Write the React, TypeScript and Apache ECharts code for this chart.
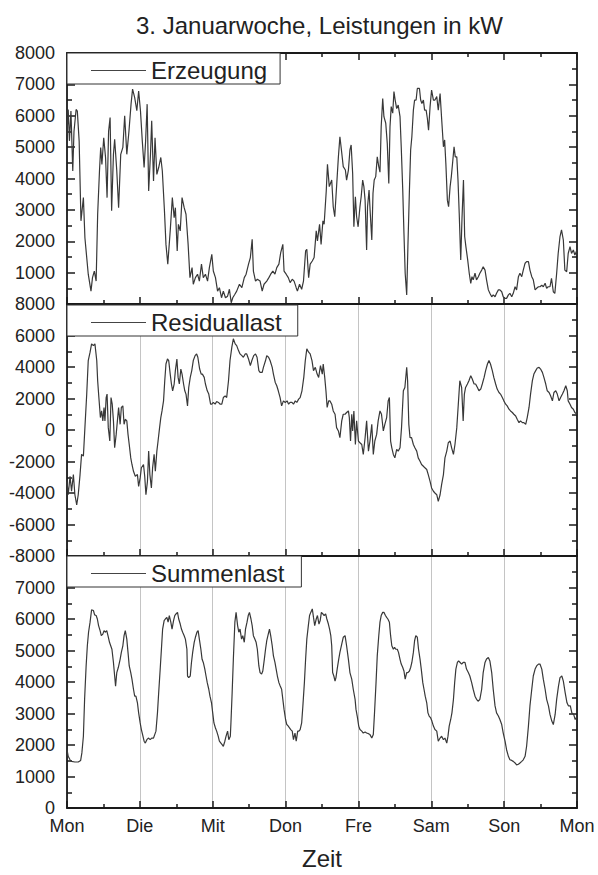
import React, { useEffect, useRef } from "react";
import * as echarts from "echarts";

// ---------- text ----------
const chartTitle = "3. Januarwoche, Leistungen in kW";
const xAxisTitle = "Zeit";
const dayLabels = ["Mon", "Die", "Mit", "Don", "Fre", "Sam", "Son", "Mon"];
const seriesNames = ["Erzeugung", "Residuallast", "Summenlast"];

// ---------- axis ranges ----------
const hoursMax = 168;
const hoursPerDay = 24;
const yMin = [0, -8000, 0];
const yMax = [8000, 8000, 8000];
const yStep = [1000, 2000, 1000];

// ---------- data: [hour of week, kW] ----------
const erzeugung: [number, number][] = [
  [0, 5400], [0.4, 6200], [0.8, 5200], [1.3, 6150], [1.9, 4240], [2.3, 5500], [3.0, 6200], [3.4, 6150],
  [4.0, 5200], [4.6, 2650], [5.4, 3390], [5.9, 2110], [7.0, 950], [7.9, 410], [8.4, 840], [9.0, 1050],
  [9.6, 730], [10.1, 2860], [10.7, 4240], [11.1, 4990], [11.5, 4450], [12.1, 5300], [12.7, 4670], [13.2, 3390],
  [13.7, 5500], [14.2, 5940], [14.7, 2970], [15.3, 4770], [15.7, 5250], [16.4, 4240], [17.0, 3070], [17.7, 4770],
  [18.4, 4990], [19.0, 6000], [19.7, 4770], [20.4, 5500], [21.1, 6370], [21.6, 6850], [22.3, 6580], [23.0, 6160],
  [23.6, 6790], [24.2, 6160], [24.8, 5200], [25.4, 4350], [25.9, 5200], [26.4, 6370], [26.9, 3600], [27.5, 4770],
  [27.9, 5840], [28.5, 3920], [29.0, 5300], [29.6, 4130], [30.2, 4350], [30.9, 4670], [31.4, 4240], [32.1, 2970],
  [32.6, 1900], [33.2, 1270], [34.0, 2330], [34.7, 3390], [35.3, 2750], [35.7, 3070], [36.3, 1690], [36.7, 2540],
  [37.3, 2330], [37.9, 3390], [38.6, 3070], [39.2, 2860], [39.9, 1900], [40.5, 840], [41.2, 1160], [41.6, 630],
  [42.3, 840], [43.0, 950], [43.6, 730], [44.3, 1270], [44.9, 840], [45.6, 950], [46.3, 730], [46.9, 1160],
  [47.7, 1580], [48.2, 1050], [48.9, 840], [49.6, 410], [50.2, 520], [50.9, 200], [51.5, 410], [52.2, 200],
  [52.9, 250], [53.5, 470], [54.1, 40], [54.6, 200], [55.3, 310], [55.9, 410], [56.8, 630], [57.6, 520],
  [58.4, 840], [59.0, 950], [59.8, 1270], [60.4, 1480], [61.0, 2060], [61.4, 1050], [62.1, 730], [62.7, 790],
  [63.6, 730], [64.3, 410], [64.9, 630], [65.8, 730], [66.5, 840], [67.1, 950], [67.8, 1050], [68.5, 950],
  [69.1, 1160], [69.8, 1270], [70.4, 1640], [71.1, 1900], [71.5, 1050], [72.2, 950], [72.9, 840], [73.5, 680],
  [74.2, 790], [74.8, 730], [75.5, 520], [75.9, 410], [76.6, 630], [77.3, 470], [77.9, 730], [78.6, 1690],
  [79.0, 1740], [79.6, 840], [80.1, 1270], [80.8, 1370], [81.4, 1480], [82.1, 2330], [82.5, 2010], [83.2, 2540],
  [83.7, 1900], [84.3, 2650], [84.7, 2540], [85.4, 3600], [85.8, 4450], [86.4, 3740], [87.2, 3950], [87.7, 3100],
  [88.2, 2780], [88.6, 3420], [89.4, 4690], [89.9, 5330], [90.4, 4910], [91.0, 4380], [91.7, 4270], [92.1, 3950],
  [92.7, 4270], [93.2, 4910], [93.6, 5070], [94.1, 4160], [94.5, 2460], [95.0, 3420], [95.4, 2780], [95.9, 2460],
  [96.5, 3100], [96.9, 3420], [97.4, 3950], [97.8, 3740], [98.2, 3310], [98.7, 1720], [99.0, 3100], [99.5, 3630],
  [99.9, 2890], [100.4, 2040], [100.8, 3530], [101.2, 3950], [101.7, 4060], [102.2, 4690], [102.7, 4380], [103.1, 4200],
  [103.5, 5650], [104.0, 6550], [104.4, 5970], [105.0, 5760], [105.5, 5120], [106.0, 3840], [106.4, 5650], [106.8, 6290],
  [107.3, 6080], [107.7, 6770], [108.1, 6500], [108.6, 6230], [109.1, 6340], [109.7, 5970], [110.1, 5010], [110.6, 3630],
  [111.0, 2250], [111.4, 980], [111.9, 290], [112.3, 1830], [112.8, 3630], [113.2, 4910], [113.6, 5330], [114.1, 6180],
  [114.5, 6500], [115.0, 6500], [115.4, 6870], [116.1, 6870], [116.5, 6500], [116.9, 6390], [117.4, 6500], [117.8, 6180],
  [118.3, 6180], [118.7, 5920], [119.1, 5540], [119.6, 6290], [120.1, 6820], [120.7, 6500], [121.2, 6500], [121.8, 6610],
  [122.3, 6180], [122.9, 6710], [123.4, 5920], [124.0, 5010], [124.4, 5230], [124.8, 4480], [125.3, 3310], [125.7, 3100],
  [126.2, 3740], [126.6, 4060], [127.0, 4480], [127.5, 5010], [127.9, 4690], [128.4, 4690], [128.8, 3950], [129.2, 2890],
  [129.7, 1400], [130.1, 2680], [130.6, 3950], [131.0, 2150], [131.4, 1830], [132.0, 1400], [132.5, 980], [133.0, 660],
  [133.4, 870], [133.8, 770], [134.4, 980], [134.9, 770], [135.5, 870], [136.0, 980], [136.6, 1080], [137.1, 1190],
  [137.7, 1080], [138.2, 770], [138.8, 450], [139.3, 340], [139.9, 230], [140.4, 290], [141.0, 230], [141.5, 340],
  [142.1, 450], [142.6, 450], [143.2, 390], [143.7, 230], [144.3, 180], [144.8, 180], [145.4, 290], [145.9, 340],
  [146.5, 230], [147.0, 340], [147.6, 550], [148.1, 450], [148.7, 870], [149.2, 980], [149.8, 870], [150.3, 1080],
  [150.9, 1300], [151.4, 1350], [152.0, 1350], [152.5, 1080], [153.1, 870], [153.6, 770], [154.2, 450], [154.7, 500],
  [155.3, 550], [155.8, 550], [156.4, 600], [156.9, 550], [157.5, 660], [158.0, 500], [158.5, 550], [159.1, 550],
  [159.6, 820], [160.2, 390], [160.7, 340], [161.3, 980], [161.8, 1610], [162.4, 2150], [162.9, 2360], [163.5, 2040],
  [164.0, 1080], [164.6, 1030], [165.1, 1610], [165.7, 1830], [166.2, 1610], [166.8, 1720], [167.3, 1560], [168, 1720],
];

const residuallast: [number, number][] = [
  [0, -3260], [0.4, -4110], [1.0, -2940], [1.5, -3890], [2.1, -2830], [2.6, -4110], [3.2, -4750], [3.7, -4110],
  [4.3, -2830], [4.8, -1550], [5.4, -1660], [5.9, 150], [6.5, 2280], [7.0, 4410], [7.6, 4940], [8.1, 5470],
  [8.7, 5360], [9.2, 5470], [9.8, 4410], [10.1, 3130], [10.5, 2060], [11.0, 790], [11.4, 1210], [11.8, 580],
  [12.2, 1430], [12.5, 580], [12.9, 2060], [13.2, 2280], [13.6, 150], [14.1, -700], [14.5, 2060], [14.9, 1640],
  [15.3, 580], [15.7, -1130], [16.2, -280], [16.6, 580], [17.0, 1430], [17.5, 360], [17.9, 1430], [18.4, 1530],
  [18.8, 360], [19.2, 680], [19.7, 580], [20.1, -280], [20.5, -920], [21.0, -1770], [21.4, -2190], [21.9, -2620],
  [22.5, -2940], [23.2, -2830], [23.6, -3580], [24.1, -3040], [24.5, -2400], [25.2, -2190], [25.6, -2940], [26.0, -4110],
  [26.5, -3260], [26.9, -1340], [27.3, -2830], [27.8, -3680], [28.2, -2400], [28.7, -1550], [29.1, -2620], [29.6, -1340],
  [30.0, -700], [30.5, 150], [30.9, 790], [31.3, 1210], [31.8, 1850], [32.2, 3130], [32.6, 4190], [33.1, 4510],
  [33.5, 4410], [34.0, 3550], [34.4, 2920], [34.8, 2490], [35.3, 2920], [35.7, 3770], [36.2, 4510], [36.6, 3340],
  [37.0, 2920], [37.5, 3870], [37.9, 3550], [38.4, 2920], [38.8, 2490], [39.2, 2280], [39.7, 1530], [40.1, 2700],
  [40.6, 3340], [41.1, 3770], [41.6, 4410], [42.2, 4720], [42.7, 4830], [43.1, 4620], [43.7, 3870], [44.2, 3550],
  [44.6, 3550], [45.2, 3340], [45.6, 2920], [46.2, 2490], [46.7, 2280], [47.3, 1640], [47.7, 1640], [48.2, 1750],
  [48.8, 1640], [49.3, 1810], [49.9, 1750], [50.4, 1640], [51.0, 1640], [51.5, 2060], [52.1, 2170], [52.6, 2060],
  [53.2, 3130], [53.7, 4410], [54.3, 5260], [54.8, 5790], [55.4, 5470], [55.9, 5360], [56.5, 5040], [57.0, 4830],
  [57.6, 4720], [58.1, 4620], [58.7, 4830], [59.2, 4830], [59.8, 4510], [60.4, 4090], [60.9, 4410], [61.5, 4720],
  [62.1, 4830], [62.6, 4620], [63.2, 3770], [63.6, 3660], [64.3, 3660], [64.7, 3980], [65.4, 4410], [65.8, 4720],
  [66.4, 4620], [66.9, 4410], [67.6, 3980], [68.0, 3550], [68.6, 3020], [69.1, 2810], [69.6, 2490], [70.2, 2060],
  [70.7, 1530], [71.3, 1850], [71.9, 1750], [72.5, 1850], [73.0, 1640], [73.5, 1750], [74.1, 1750], [74.6, 1640],
  [75.2, 1850], [75.7, 1750], [76.3, 1960], [76.8, 2060], [77.4, 2490], [78.0, 3340], [78.5, 4410], [79.0, 5150],
  [79.6, 4940], [80.1, 4830], [80.7, 4410], [81.2, 3770], [81.8, 3980], [82.4, 3550], [82.9, 3340], [83.5, 4090],
  [84.1, 3550], [84.4, 4190], [84.9, 3340], [85.3, 2490], [85.7, 1430], [86.2, 1850], [86.6, 1850], [87.2, 1640],
  [87.7, 1210], [88.3, 1000], [88.8, 150], [89.4, -60], [89.9, -490], [90.5, 580], [91.0, 1000], [91.6, 1000],
  [92.1, 1110], [92.7, 1210], [93.0, 790], [93.4, -700], [93.8, 1000], [94.1, -60], [94.5, 1210], [95.0, -920],
  [95.4, 580], [96.0, -700], [96.5, -810], [97.1, -920], [97.6, -1550], [98.2, -490], [98.7, 580], [99.3, -1340],
  [99.8, -700], [100.4, 360], [100.9, -1550], [101.4, -700], [102.0, -280], [102.5, 580], [103.1, 1210], [103.6, 1000],
  [104.2, -60], [104.7, 360], [105.3, 790], [105.8, 1850], [106.2, 2060], [106.6, -700], [107.0, -1130], [107.5, -1550],
  [108.0, -1770], [108.6, -1230], [109.1, -1340], [109.7, -1130], [110.2, 150], [110.8, 2490], [111.3, 2700], [111.9, 3980],
  [112.2, 3130], [112.6, 360], [113.0, -490], [113.5, -490], [114.1, -920], [114.6, -1130], [115.2, -1340], [115.7, -1770],
  [116.3, -1980], [116.8, -2190], [117.4, -2300], [117.9, -2400], [118.5, -2510], [119.0, -2830], [119.6, -3260], [120.1, -3680],
  [120.7, -3890], [121.2, -4000], [121.8, -4110], [122.3, -4530], [122.9, -4110], [123.4, -3470], [124.0, -2830], [124.5, -1770],
  [125.1, -1340], [125.6, -810], [126.2, -700], [126.7, -1130], [127.3, -1550], [127.8, -920], [128.4, 150], [128.9, 1640],
  [129.4, 3130], [130.0, 2700], [130.5, 580], [130.9, 2280], [131.3, 2700], [131.9, 2920], [132.4, 3130], [133.0, 3450],
  [133.5, 3240], [134.1, 2920], [134.6, 2920], [135.2, 2700], [135.7, 2490], [136.3, 2600], [136.8, 2920], [137.4, 3340],
  [137.9, 3770], [138.5, 4190], [139.0, 4410], [139.5, 4190], [140.1, 3770], [140.6, 3340], [141.2, 2920], [141.7, 2600],
  [142.3, 2380], [142.8, 2280], [143.4, 2060], [143.9, 1850], [144.5, 1640], [145.0, 1530], [145.6, 1320], [146.1, 1210],
  [146.7, 1110], [147.2, 1000], [147.8, 890], [148.3, 680], [148.9, 470], [149.4, 580], [150.0, 470], [150.5, 470],
  [151.1, 360], [151.6, 790], [152.2, 1430], [152.7, 2280], [153.3, 3130], [153.8, 3550], [154.4, 3770], [154.9, 3940],
  [155.5, 3980], [156.0, 3870], [156.6, 3660], [157.1, 3340], [157.7, 2920], [158.2, 2490], [158.8, 2380], [159.3, 2170],
  [159.9, 1850], [160.4, 2380], [161.0, 2490], [161.5, 2280], [162.1, 1850], [162.6, 2060], [163.2, 2280], [163.7, 2490],
  [164.3, 2810], [164.8, 2490], [165.1, 1850], [165.7, 1640], [166.2, 1430], [166.8, 1320], [167.3, 1110], [168, 1000],
];

const summenlast: [number, number][] = [
  [0, 1850], [0.4, 1640], [1.0, 1530], [1.5, 1480], [2.6, 1460], [3.7, 1460], [4.5, 1510], [4.9, 1750],
  [5.4, 2280], [5.8, 3450], [6.3, 4510], [6.7, 5150], [7.1, 5580], [7.6, 5900], [8.1, 6290], [8.7, 6270],
  [9.1, 6130], [9.6, 6110], [10.0, 6000], [10.4, 5790], [10.9, 5630], [11.3, 5470], [11.8, 5520], [12.2, 5630],
  [12.6, 5580], [13.1, 5630], [13.5, 5470], [14.0, 5260], [14.4, 5150], [14.8, 5040], [15.3, 4620], [15.7, 4190],
  [16.0, 3870], [16.4, 4300], [16.9, 4460], [17.5, 4720], [17.9, 4940], [18.4, 5150], [18.8, 5470], [19.2, 5630],
  [19.7, 5360], [20.1, 4940], [20.5, 4510], [21.0, 4300], [21.4, 4090], [21.9, 3770], [22.3, 3550], [22.7, 3550],
  [23.2, 3340], [23.6, 3020], [24.1, 2700], [24.5, 2490], [24.9, 2330], [25.4, 2120], [25.8, 2060], [26.3, 2170],
  [26.8, 2220], [27.4, 2170], [27.9, 2220], [28.5, 2220], [28.9, 2330], [29.3, 2440], [29.8, 3020], [30.2, 3660],
  [30.7, 4410], [31.1, 5040], [31.5, 5680], [32.0, 5950], [32.4, 6000], [32.9, 6050], [33.3, 5900], [33.7, 6110],
  [34.2, 5900], [34.6, 5680], [35.1, 5950], [35.5, 6110], [35.9, 6160], [36.4, 6210], [36.8, 6000], [37.3, 5840],
  [37.7, 5680], [38.1, 5580], [38.6, 5470], [39.0, 5360], [39.5, 5040], [39.7, 4190], [40.1, 4140], [40.6, 4190],
  [41.0, 4620], [41.4, 4940], [41.9, 5260], [42.3, 5420], [42.8, 5580], [43.2, 5630], [43.6, 5360], [44.1, 5040],
  [44.5, 4720], [44.9, 4620], [45.4, 4410], [45.8, 4190], [46.2, 3980], [46.7, 3770], [47.1, 3550], [47.6, 3340],
  [48.0, 3020], [48.4, 2700], [48.9, 2540], [49.3, 2440], [49.8, 2280], [50.2, 2120], [50.7, 2060], [51.1, 2010],
  [51.5, 1960], [52.0, 2120], [52.4, 2280], [52.9, 2440], [53.3, 2170], [53.8, 2280], [54.0, 2700], [54.4, 3660],
  [54.8, 4720], [55.3, 5900], [55.7, 6210], [56.2, 5790], [56.6, 5580], [57.0, 5680], [57.5, 5360], [57.9, 5470],
  [58.4, 5260], [58.8, 5680], [59.3, 5900], [59.7, 6110], [60.1, 6210], [60.6, 6000], [61.0, 5790], [61.4, 5470],
  [61.9, 5360], [62.3, 5260], [62.7, 5040], [63.2, 4510], [63.6, 4300], [64.1, 4250], [64.5, 4350], [65.0, 4720],
  [65.4, 5040], [65.8, 5310], [66.3, 5520], [66.7, 5680], [67.1, 5470], [67.6, 5150], [68.0, 4830], [68.5, 4620],
  [68.9, 4410], [69.3, 4190], [69.8, 3980], [70.2, 3880], [70.7, 3770], [71.1, 3450], [71.5, 3130], [72.0, 2810],
  [72.4, 2650], [72.9, 2600], [73.3, 2540], [73.7, 2490], [74.2, 2440], [74.6, 2170], [75.1, 2380], [75.5, 2120],
  [76.0, 2440], [76.4, 2440], [76.8, 2490], [77.3, 2700], [77.7, 3240], [78.2, 3980], [78.6, 4720], [79.0, 5360],
  [79.5, 5790], [79.9, 6110], [80.3, 6210], [80.8, 6320], [81.2, 6050], [81.6, 5790], [82.1, 6000], [82.5, 6110],
  [83.0, 5840], [83.4, 5950], [83.8, 6210], [84.3, 6160], [84.7, 6110], [85.2, 6160], [85.6, 6000], [86.1, 5840],
  [86.5, 5680], [86.9, 5470], [87.2, 5150], [87.5, 4300], [87.9, 4190], [88.3, 4030], [88.6, 4140], [89.0, 4410],
  [89.5, 4720], [89.9, 4940], [90.5, 5200], [91.0, 5420], [91.6, 5470], [92.1, 5150], [92.7, 4720], [93.2, 4300],
  [93.8, 4090], [94.3, 3770], [94.9, 3450], [95.2, 3130], [95.6, 2920], [96.1, 2600], [96.5, 2490], [97.1, 2440],
  [97.6, 2380], [98.2, 2410], [98.7, 2380], [99.3, 2360], [99.8, 2330], [100.4, 2220], [100.9, 2330], [101.3, 3020],
  [101.8, 3980], [102.2, 4830], [102.7, 5470], [103.1, 5900], [103.5, 6110], [104.0, 6210], [104.4, 6210], [104.9, 6110],
  [105.3, 6050], [105.7, 6000], [106.2, 5900], [106.6, 5470], [107.0, 5150], [107.5, 5040], [107.9, 5100], [108.3, 5040],
  [108.8, 5040], [109.2, 4940], [109.7, 4720], [110.1, 4570], [110.6, 4460], [111.0, 4350], [111.4, 4090], [111.9, 4300],
  [112.3, 4300], [112.8, 4350], [113.2, 4460], [113.6, 4620], [114.1, 4940], [114.5, 5310], [114.9, 5470], [115.4, 5420],
  [115.8, 5040], [116.3, 4720], [116.7, 4410], [117.2, 3980], [117.6, 3770], [118.0, 3550], [118.5, 3340], [118.9, 3020],
  [119.3, 2920], [119.8, 2860], [120.2, 2760], [120.7, 2600], [121.2, 2490], [121.8, 2440], [122.3, 2120], [122.9, 2220],
  [123.4, 2280], [124.0, 2170], [124.5, 2220], [125.1, 2060], [125.5, 2280], [125.9, 2600], [126.4, 2810], [126.8, 3020],
  [127.3, 3450], [127.7, 3980], [128.1, 4410], [128.6, 4620], [129.0, 4670], [129.5, 4620], [130.0, 4570], [130.5, 4620],
  [131.1, 4620], [131.6, 4410], [132.2, 4300], [132.7, 4190], [133.3, 3980], [133.8, 3770], [134.4, 3550], [134.9, 3450],
  [135.5, 3390], [136.0, 3450], [136.6, 3770], [137.1, 4300], [137.7, 4620], [138.2, 4730], [138.8, 4780], [139.3, 4670],
  [139.9, 4300], [140.4, 3770], [141.0, 3240], [141.5, 3020], [142.1, 2920], [142.6, 2810], [143.2, 2650], [143.7, 2380],
  [144.3, 2120], [144.8, 1850], [145.4, 1640], [145.9, 1530], [146.5, 1510], [147.0, 1480], [147.6, 1430], [148.1, 1370],
  [148.7, 1390], [149.2, 1430], [149.8, 1480], [150.3, 1530], [150.9, 1640], [151.4, 1960], [152.0, 2600], [152.5, 3240],
  [153.1, 3770], [153.6, 4190], [154.2, 4410], [154.7, 4510], [155.3, 4570], [155.8, 4570], [156.4, 4410], [156.9, 4090],
  [157.5, 3770], [158.0, 3450], [158.6, 3240], [159.1, 2970], [159.7, 2760], [160.2, 2650], [160.8, 2970], [161.3, 3450],
  [161.9, 3870], [162.4, 4140], [163.0, 4190], [163.5, 4030], [164.1, 3660], [164.7, 3340], [165.2, 3240], [165.8, 3240],
  [166.3, 3020], [166.9, 2970], [167.4, 2810], [168, 2900],
];

const seriesData = [erzeugung, residuallast, summenlast];

// ---------- styling / layout ----------
const FONT = '"Liberation Sans", Arial, Helvetica, sans-serif';
const TEXT = "#222222";
const AXIS = "#1a1a1a";
const LINE = "#383838";
const GRID_LEFT = 67;
const GRID_WIDTH = 510;
const gridTops = [53, 304, 556];
const gridHeights = [251, 252, 252];
const legendRightPad = [13, 16, 17];
const legendTopOffset = [0, 1, 0];

function xAxisDef(gridIndex: number, position: string, extra: any = {}) {
  return {
    type: "value",
    gridIndex,
    position,
    min: 0,
    max: hoursMax,
    interval: hoursPerDay,
    axisLine: { show: true, onZero: false, lineStyle: { color: AXIS, width: 1.8 } },
    axisTick: { show: true, inside: true, length: 7, lineStyle: { color: AXIS, width: 1.5 } },
    minorTick: { show: true, splitNumber: 2, length: 4, lineStyle: { color: AXIS, width: 1.5 } },
    axisLabel: { show: false },
    splitLine: { show: false },
    minorSplitLine: { show: false },
    ...extra,
  };
}

function yAxisDef(gridIndex: number, position: string, extra: any = {}) {
  return {
    type: "value",
    gridIndex,
    position,
    min: yMin[gridIndex],
    max: yMax[gridIndex],
    interval: yStep[gridIndex],
    axisLine: { show: true, onZero: false, lineStyle: { color: AXIS, width: 1.8 } },
    axisTick: { show: true, inside: true, length: 8, lineStyle: { color: AXIS, width: 1.5 } },
    minorTick: { show: true, splitNumber: 2, length: 5, lineStyle: { color: AXIS, width: 1.5 } },
    axisLabel: { show: false },
    splitLine: { show: false },
    minorSplitLine: { show: false },
    ...extra,
  };
}

const yLabel = (showMin: boolean, showMax: boolean) => ({
  show: true,
  margin: 12,
  fontSize: 18,
  color: TEXT,
  fontFamily: FONT,
  showMinLabel: showMin,
  showMaxLabel: showMax,
  hideOverlap: false,
  formatter: (v: number) => String(Math.round(v)),
});

const daySplit = { show: true, lineStyle: { color: "#c4c4c4", width: 1 } };

export default function App() {
  const ref = useRef<HTMLDivElement>(null);

  useEffect(() => {
    if (!ref.current) return;
    const chart = echarts.init(ref.current, undefined, { renderer: "svg" });

    const xAxes = [
      xAxisDef(0, "bottom"),
      xAxisDef(0, "top"),
      xAxisDef(1, "bottom", { splitLine: daySplit }),
      xAxisDef(2, "bottom", {
        splitLine: daySplit,
        axisLabel: {
          show: true,
          margin: 9,
          fontSize: 18,
          color: TEXT,
          fontFamily: FONT,
          showMinLabel: true,
          showMaxLabel: true,
          hideOverlap: false,
          formatter: (v: number) => dayLabels[Math.round(v / hoursPerDay)] ?? "",
        },
        name: xAxisTitle,
        nameLocation: "middle",
        nameGap: 38,
        nameMoveOverlap: false,
        nameTextStyle: { fontSize: 24, color: TEXT, fontFamily: FONT, verticalAlign: "top" },
      }),
    ];
    const xIndexForGrid = [0, 2, 3];

    const yAxes = [
      yAxisDef(0, "left", { axisLabel: yLabel(false, true) }),
      yAxisDef(0, "right"),
      yAxisDef(1, "left", { axisLabel: yLabel(true, true) }),
      yAxisDef(1, "right"),
      yAxisDef(2, "left", { axisLabel: yLabel(true, false) }),
      yAxisDef(2, "right"),
    ];
    const yIndexForGrid = [0, 2, 4];

    const option: any = {
      animation: false,
      backgroundColor: "#ffffff",
      textStyle: { fontFamily: FONT },
      title: {
        text: chartTitle,
        left: 131,
        top: 8,
        textStyle: { fontSize: 24, fontWeight: "normal", color: TEXT, fontFamily: FONT },
      },
      grid: gridTops.map((t, i) => ({
        left: GRID_LEFT,
        top: t,
        width: GRID_WIDTH,
        height: gridHeights[i],
        containLabel: false,
        outerBoundsMode: "none",
      })),
      xAxis: xAxes,
      yAxis: yAxes,
      legend: seriesNames.map((n, i) => ({
        data: [n],
        left: GRID_LEFT,
        top: gridTops[i] + legendTopOffset[i],
        orient: "horizontal",
        padding: [5, legendRightPad[i], 1, 24],
        icon: "rect",
        itemWidth: 55,
        itemHeight: 1.2,
        itemGap: 0,
        itemStyle: { color: "#444444", borderWidth: 0 },
        backgroundColor: "#ffffff",
        borderColor: "#333333",
        borderWidth: 1,
        borderRadius: 0,
        selectedMode: false,
        z: 10,
        textStyle: { fontSize: 24, lineHeight: 25, color: TEXT, fontFamily: FONT },
      })),
      series: seriesNames.map((n, i) => ({
        name: n,
        type: "line",
        xAxisIndex: xIndexForGrid[i],
        yAxisIndex: yIndexForGrid[i],
        data: seriesData[i],
        symbol: "none",
        showSymbol: false,
        smooth: false,
        silent: true,
        itemStyle: { color: LINE },
        lineStyle: { color: LINE, width: 1.2 },
      })),
    };

    chart.setOption(option);
    return () => chart.dispose();
  }, []);

  return (
    <div
      ref={ref}
      style={{ position: "fixed", left: 0, top: 0, width: 598, height: 875, background: "#fff" }}
    />
  );
}
